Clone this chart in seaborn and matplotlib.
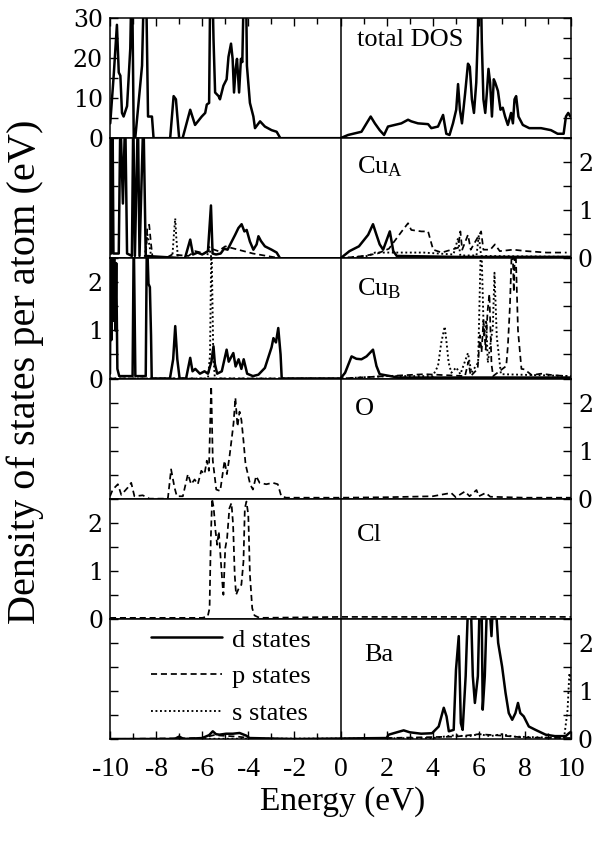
import matplotlib
matplotlib.use("Agg")
import matplotlib.pyplot as plt
from matplotlib.lines import Line2D
from matplotlib.ticker import MultipleLocator
import seaborn as sns

# ---------------- data ----------------
tot_e = [-9.99, -9.84, -9.70, -9.62, -9.55, -9.48, -9.41, -9.26, -9.12, -9.05, -8.97, -8.90,
         -8.61, -8.50, -8.45, -8.35, -8.18, -8.11, -7.39, -7.24, -7.14, -7.00, -6.85, -6.52,
         -6.31, -6.02, -5.87, -5.80, -5.70, -5.64, -5.58, -5.51, -5.44, -5.29, -5.23, -5.08,
         -4.94, -4.86, -4.75, -4.68, -4.62, -4.55, -4.49, -4.40, -4.32, -4.26, -4.17, -4.11,
         -4.06, -3.93, -3.78, -3.71, -3.49, -3.28, -2.99, -2.77, -2.61,
         0.00, 0.33, 0.91, 1.13, 1.31, 1.49, 1.70, 1.89, 2.06, 2.35, 2.64, 2.93, 3.07, 3.36,
         3.80, 3.94, 4.23, 4.45, 4.59, 4.73, 4.88, 5.02, 5.10, 5.18, 5.27, 5.41, 5.53, 5.61,
         5.70, 5.79, 5.89, 5.96, 6.02, 6.07, 6.13, 6.20, 6.28, 6.35, 6.42, 6.49, 6.57, 6.65,
         6.71, 6.83, 6.94, 7.04, 7.14, 7.26, 7.40, 7.48, 7.55, 7.62, 7.72, 7.91, 8.19, 8.70,
         9.13, 9.42, 9.68, 9.78, 9.88, 9.97]
tot_v = [3.7, 15.6, 28.3, 16.4, 15.6, 6.3, 5.4, 8.0, 22.4, 45, 0.3, 0.3,
         18.1, 45, 45, 5.4, 5.4, 0.0, 0.0, 10.5, 9.7, 0.0, 0.0, 7.1,
         3.3, 5.4, 6.3, 8.4, 8.8, 45, 45, 24.9, 11.4, 10.5, 9.7, 13.1,
         14.7, 20.3, 23.6, 19.8, 11.4, 17.3, 19.8, 11.4, 19.8, 19.0, 45, 45,
         18.1, 8.8, 5.4, 2.5, 4.2, 2.9, 2.0, 1.6, 0.0,
         0.0, 0.8, 1.6, 3.7, 5.4, 3.7, 2.0, 0.8, 2.9, 3.3, 3.7, 4.6, 4.2, 3.7,
         3.5, 2.5, 2.9, 5.8, 1.1, 0.8, 3.7, 7.1, 13.5, 7.1, 3.7, 11.4, 18.6, 17.8,
         9.7, 6.3, 13.9, 26.6, 45, 45, 24.1, 9.7, 6.3, 11.4, 17.3, 13.9, 5.4, 14.7,
         13.9, 11.8, 7.1, 7.6, 5.4, 3.3, 6.3, 3.7, 9.7, 10.5, 5.4, 3.3, 2.5, 2.5,
         2.0, 1.1, 1.1, 5.4, 6.3, 5.4]

# Cu_A
cua_d_e = [-10.0, -9.97, -9.94, -9.89, -9.85, -9.62, -9.55, -9.44, -9.34, -9.26, -9.05, -8.99,
           -8.92, -8.79, -8.72, -8.55, -8.45, -6.75, -6.52, -6.40, -6.20, -6.00, -5.75, -5.62,
           -5.55, -5.40, -5.20, -5.05, -4.90, -4.57, -4.43, -4.29, -4.17, -4.07, -3.93, -3.78,
           -3.64, -3.56, -3.45, -3.28, -2.99, -2.77, -2.62,
           0.00, 0.39, 0.80, 1.20, 1.41, 1.56, 1.70, 1.85, 2.14, 2.29, 2.44, 5.0, 10.0]
cua_d_v = [0.1, 3.0, 0.1, 3.0, 0.1, 0.1, 3.0, 1.14, 3.0, 0.1, 0.05, 3.0,
           0.05, 3.0, 0.05, 3.0, 0.05, 0.0, 0.39, 0.08, 0.12, 0.08, 0.15, 1.1,
           0.1, 0.08, 0.1, 0.2, 0.18, 0.49, 0.63, 0.71, 0.56, 0.59, 0.35, 0.18,
           0.29, 0.46, 0.36, 0.25, 0.18, 0.12, 0.0,
           0.0, 0.15, 0.25, 0.49, 0.71, 0.49, 0.29, 0.18, 0.56, 0.15, 0.05, 0.03, 0.03]
cua_p_e = [-10.0, -8.45, -8.38, -8.30, -8.22, -8.15, -7.60, -7.30, -6.60, -6.30, -5.90, -5.60,
           -5.30, -5.00, -4.60, -4.20, -3.80, -3.20, -2.60,
           0.00, 1.00, 1.60, 2.10, 2.64, 2.93, 3.07, 3.51, 3.80, 3.92, 4.02, 4.39, 5.10, 5.20,
           5.28, 5.53, 5.65, 6.10, 6.20, 6.50, 6.70, 6.91, 7.49, 8.07, 8.94, 9.81]
cua_p_v = [0.0, 0.0, 0.65, 0.70, 0.30, 0.0, 0.0, 0.08, 0.05, 0.15, 0.10, 0.20,
           0.15, 0.25, 0.20, 0.15, 0.10, 0.05, 0.0,
           0.0, 0.05, 0.10, 0.20, 0.55, 0.73, 0.59, 0.56, 0.56, 0.35, 0.18, 0.12, 0.22, 0.56,
           0.18, 0.49, 0.18, 0.56, 0.18, 0.18, 0.29, 0.15, 0.18, 0.15, 0.12, 0.12]
cua_s_e = [-10.0, -8.50, -8.38, -8.30, -8.20, -7.30, -7.22, -7.17, -7.12, -7.05, -5.80, -5.70,
           -5.60, -2.50,
           0.00, 1.20, 1.50, 3.00, 3.60, 4.90, 5.10, 5.20, 5.90, 6.00, 6.10, 10.0]
cua_s_v = [0.0, 0.0, 0.5, 0.3, 0.0, 0.0, 0.55, 0.83, 0.4, 0.0, 0.0, 0.25,
           0.0, 0.0,
           0.0, 0.05, 0.12, 0.12, 0.12, 0.08, 0.42, 0.06, 0.06, 0.48, 0.05, 0.03]

# Cu_B
cub_d_e = [-10.0, -9.97, -9.94, -9.90, -9.86, -9.82, -9.77, -9.73, -9.68, -9.60, -9.02, -8.97,
           -8.90, -8.45, -8.40, -8.33, -8.27, -8.22, -8.19, -7.40, -7.26, -7.17, -7.08, -6.98,
           -6.70, -6.52, -6.42, -6.30, -6.10, -5.90, -5.75, -5.60, -5.51, -5.45, -5.35, -5.15,
           -4.94, -4.85, -4.65, -4.55, -4.42, -4.30, -4.20, -4.05, -3.80, -3.56, -3.28, -2.99,
           -2.91, -2.80, -2.70, -2.60, -2.55,
           0.00, 0.20, 0.48, 0.69, 0.91, 1.13, 1.41, 1.56, 1.70, 2.50, 10.0]
cub_d_v = [0.1, 3.0, 0.8, 3.0, 1.2, 3.0, 1.0, 2.4, 0.2, 0.05, 0.05, 3.0,
           0.05, 0.05, 3.0, 1.97, 1.9, 0.9, 0.0, 0.0, 0.4, 1.09, 0.4, 0.0,
           0.0, 0.43, 0.15, 0.2, 0.1, 0.15, 0.1, 0.35, 0.67, 0.3, 0.1, 0.15,
           0.6, 0.35, 0.53, 0.25, 0.4, 0.2, 0.4, 0.1, 0.05, 0.08, 0.22, 0.65,
           0.84, 0.75, 1.05, 0.5, 0.0,
           0.0, 0.12, 0.46, 0.41, 0.40, 0.46, 0.60, 0.26, 0.09, 0.02, 0.02]
cub_p_e = [-10.0, -2.5,
           0.00, 3.65, 5.40, 5.55, 5.65, 5.95, 6.05, 6.12, 6.20, 6.30, 6.38, 6.46, 6.55, 6.62,
           7.19, 7.26, 7.35, 7.45, 7.52, 7.58, 7.70, 7.85, 7.98, 8.30, 8.70, 9.20, 9.80]
cub_p_v = [0.0, 0.0,
           0.0, 0.09, 0.05, 0.35, 0.05, 0.20, 0.90, 0.55, 1.20, 0.60, 1.40, 1.76, 0.30, 0.05,
           0.26, 0.67, 1.50, 3.0, 1.8, 3.0, 1.0, 0.2, 0.19, 0.07, 0.10, 0.07, 0.05]
cub_s_e = [-10.0, -5.75, -5.66, -5.60, -5.52, -5.45, -2.50,
           0.00, 2.00, 4.00, 4.23, 4.37, 4.52, 4.59, 4.69, 4.81, 5.02, 5.20, 5.53, 5.68, 5.97,
           6.10, 6.22, 6.32, 6.39, 6.61, 6.68, 6.78, 6.96, 10.0]
cub_s_v = [0.0, 0.0, 0.5, 3.0, 0.5, 0.0, 0.0,
           0.0, 0.05, 0.05, 0.26, 0.74, 1.08, 0.8, 0.33, 0.12, 0.23, 0.09, 0.53, 0.12, 0.33,
           3.0, 0.87, 1.21, 0.33, 1.08, 2.2, 0.87, 0.09, 0.05]

# O
o_p_e = [-10.0, -9.88, -9.66, -9.51, -9.23, -9.08, -8.94, -8.58, -8.29, -7.49, -7.35, -7.20,
         -7.10, -6.84, -6.62, -6.48, -6.33, -6.19, -6.04, -5.90, -5.80, -5.71, -5.61, -5.54,
         -5.47, -5.39, -5.22, -5.03, -4.93, -4.82, -4.73, -4.64, -4.56, -4.47, -4.38, -4.30,
         -4.21, -4.12, -4.02, -3.92, -3.80, -3.66, -3.51, -3.22, -2.94, -2.72, -2.57, -2.36,
         0.00, 2.00, 4.00, 4.80, 5.00, 5.40, 5.60, 5.90, 6.00, 6.30, 6.50, 8.00, 10.0]
o_p_v = [0.05, 0.19, 0.30, 0.08, 0.23, 0.33, 0.05, 0.07, 0.0, 0.0, 0.61, 0.23,
         0.05, 0.05, 0.51, 0.30, 0.40, 0.30, 0.58, 0.51, 0.79, 0.58, 2.34, 0.79,
         0.51, 0.19, 0.16, 0.79, 0.51, 0.86, 1.21, 1.57, 2.10, 1.50, 1.81, 1.64,
         1.21, 0.72, 0.51, 0.30, 0.19, 0.47, 0.33, 0.30, 0.33, 0.30, 0.05, 0.02,
         0.02, 0.03, 0.05, 0.12, 0.03, 0.15, 0.05, 0.18, 0.05, 0.12, 0.04, 0.02, 0.02]

# Cl
cl_p_e = [-10.0, -6.00, -5.76, -5.68, -5.63, -5.57, -5.50, -5.42, -5.35, -5.28, -5.21, -5.13,
          -5.08, -5.00, -4.92, -4.82, -4.73, -4.66, -4.59, -4.53, -4.41, -4.30, -4.21, -4.15,
          -4.08, -4.00, -3.93, -3.83, -3.73, -3.51,
          0.00, 10.0]
cl_p_v = [0.02, 0.02, 0.05, 0.22, 1.61, 2.50, 2.30, 1.82, 1.54, 1.82, 1.33, 0.78,
          0.50, 1.47, 1.68, 2.30, 2.41, 1.96, 0.92, 0.50, 0.64, 0.71, 1.19, 2.30,
          2.44, 2.16, 0.92, 0.22, 0.07, 0.02,
          0.04, 0.04]

# Ba
ba_d_e = [-10.0, -7.20, -7.00, -6.80, -6.00, -5.70, -5.54, -5.40, -5.25, -4.96, -4.67, -4.38,
          -4.09, -3.95, -2.00,
          0.00, 2.00, 2.09, 2.74, 3.00, 3.50, 3.97, 4.26, 4.48, 4.60, 4.70, 4.91, 5.01, 5.13,
          5.22, 5.30, 5.43, 5.54, 5.65, 5.74, 5.83, 5.96, 6.04, 6.12, 6.17, 6.26, 6.36, 6.45,
          6.55, 6.62, 6.72, 6.84, 7.01, 7.16, 7.30, 7.45, 7.59, 7.70, 7.80, 7.95, 8.17, 8.46,
          8.90, 9.30, 9.77, 9.91, 10.0]
ba_d_v = [0.0, 0.0, 0.05, 0.0, 0.02, 0.08, 0.16, 0.10, 0.09, 0.11, 0.11, 0.125,
          0.07, 0.02, 0.0,
          0.01, 0.02, 0.09, 0.18, 0.14, 0.11, 0.12, 0.26, 0.65, 0.47, 0.16, 0.19, 1.44, 2.14,
          0.33, 0.19, 1.31, 2.9, 2.9, 1.31, 0.75, 1.31, 2.9, 2.9, 0.61, 1.31, 2.9, 2.9,
          2.14, 2.9, 2.9, 2.0, 1.51, 0.96, 0.54, 0.40, 0.54, 0.75, 0.54, 0.47, 0.26, 0.19,
          0.09, 0.06, 0.06, 0.12, 0.15]
ba_p_e = [-10.0, -6.0, -5.5, -4.5, -3.5, 0.0, 5.0, 6.0, 7.0, 8.0, 10.0]
ba_p_v = [0.0, 0.02, 0.08, 0.05, 0.0, 0.0, 0.05, 0.10, 0.07, 0.03, 0.02]
ba_s_e = [-10.0, 0.0, 4.0, 5.0, 5.5, 6.0, 6.5, 7.0, 7.5, 9.70, 9.85, 9.93, 10.0]
ba_s_v = [0.0, 0.01, 0.02, 0.08, 0.05, 0.10, 0.06, 0.10, 0.05, 0.02, 0.60, 1.37, 1.2]

panel_names = ["total DOS", r"Cu$_\mathregular{A}$", r"Cu$_\mathregular{B}$", "O", "Cl", "Ba"]
legend_labels = ["d states", "p states", "s states"]
x_ticks = [-10, -8, -6, -4, -2, 0, 2, 4, 6, 8, 10]

# ---------------- style ----------------
sns.set_style("ticks", {"axes.edgecolor": "black", "xtick.color": "black",
                        "ytick.color": "black", "text.color": "black",
                        "axes.labelcolor": "black"})
plt.rcParams["font.family"] = ["Liberation Serif", "DejaVu Serif"]
plt.rcParams["mathtext.fontset"] = "custom"
plt.rcParams["mathtext.rm"] = "Liberation Serif"
plt.rcParams["mathtext.it"] = "Liberation Serif:italic"
plt.rcParams["axes.linewidth"] = 1.1
plt.rcParams["axes.unicode_minus"] = False

D_STYLE = dict(color="black", lw=1.8, linestyle="-")
P_STYLE = dict(color="black", lw=1.25, linestyle=(0, (3.5, 2.2)))
S_STYLE = dict(color="black", lw=1.35, linestyle=(0, (1.0, 1.4)))

fig = plt.figure(figsize=(6.01, 8.5), dpi=100)
left, right = 110 / 601, 571 / 601
top, bottom = 1 - 18 / 850, 1 - 739 / 850
h = (top - bottom) / 6
axes = [fig.add_axes([left, top - (i + 1) * h, right - left, h]) for i in range(6)]


def draw(ax, e, v, style):
    sns.lineplot(x=e, y=v, ax=ax, estimator=None, sort=False, legend=False, **style)


draw(axes[0], tot_e, tot_v, D_STYLE)
draw(axes[1], cua_p_e, cua_p_v, P_STYLE)
draw(axes[1], cua_s_e, cua_s_v, S_STYLE)
draw(axes[1], cua_d_e, cua_d_v, D_STYLE)
draw(axes[2], cub_p_e, cub_p_v, P_STYLE)
draw(axes[2], cub_s_e, cub_s_v, S_STYLE)
draw(axes[2], cub_d_e, cub_d_v, D_STYLE)
draw(axes[3], o_p_e, o_p_v, P_STYLE)
draw(axes[4], cl_p_e, cl_p_v, P_STYLE)
draw(axes[5], ba_p_e, ba_p_v, P_STYLE)
draw(axes[5], ba_s_e, ba_s_v, S_STYLE)
draw(axes[5], ba_d_e, ba_d_v, D_STYLE)

label_pos = [(0.536, 0.815), (0.536, 0.76), (0.536, 0.75), (0.532, 0.75), (0.536, 0.70), (0.552, 0.70)]

for i, ax in enumerate(axes):
    ax.set_xlim(-10, 10)
    ax.axvline(0, color="black", lw=1.1)
    ax.set_xlabel("")
    ax.set_ylabel("")
    if i == 0:
        ax.set_ylim(0, 30)
        ax.yaxis.set_major_locator(MultipleLocator(10))
        ax.yaxis.set_minor_locator(MultipleLocator(5))
    else:
        ax.set_ylim(0, 2.5)
        ax.set_yticks([0, 1, 2])
        ax.yaxis.set_minor_locator(MultipleLocator(0.5))
    ax.set_xticks(x_ticks)
    ax.xaxis.set_minor_locator(MultipleLocator(1))
    lab_left = (i % 2 == 0)
    ax.tick_params(axis="y", which="both", direction="in", left=True, right=True,
                   labelleft=lab_left, labelright=not lab_left, length=6, width=1.0,
                   labelsize=17, pad=5)
    ax.tick_params(axis="x", which="both", direction="in", length=6, width=1.0,
                   top=(i == 0), bottom=(i == 5), labelbottom=(i == 5), labeltop=False,
                   labelsize=20, pad=13)
    ax.tick_params(axis="x", which="minor", length=4)
    for lab in ax.get_yticklabels():
        lab.set_fontfamily("DejaVu Serif")
    ax.text(label_pos[i][0], label_pos[i][1], panel_names[i], transform=ax.transAxes,
            fontsize=19, ha="left", va="center")

handles = [Line2D([], [], **D_STYLE), Line2D([], [], **P_STYLE), Line2D([], [], **S_STYLE)]
axes[5].legend(handles, legend_labels, loc="upper left", bbox_to_anchor=(0.065, 1.01),
               frameon=False, fontsize=19, handlelength=2.7, handletextpad=0.4,
               labelspacing=0.5, borderaxespad=0.0)

fig.text(0.042, 1 - 372 / 850, "Density of states per atom (eV)", rotation=90,
         fontsize=29, ha="center", va="center")
fig.text(343 / 601, 1 - 802 / 850, "Energy (eV)", fontsize=24, ha="center", va="center")

fig.savefig("out.png", dpi=100)
